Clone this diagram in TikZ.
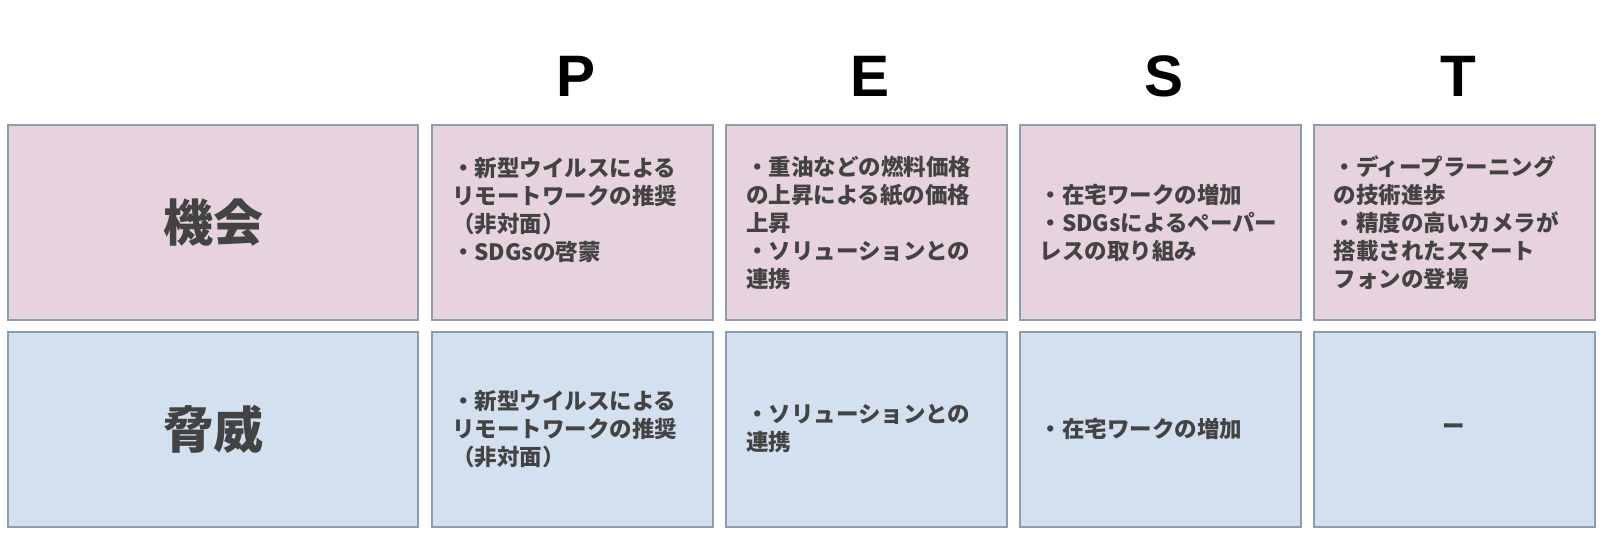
\documentclass[tikz,border=0pt]{standalone}
\usepackage{fontspec}
\setmainfont{Liberation Sans}
\newfontfamily\jp{Noto Sans CJK JP}
\definecolor{pinkfill}{HTML}{E6D3DD}
\definecolor{bluefill}{HTML}{D3E0EF}
\definecolor{edgegray}{HTML}{8E9DAA}
\definecolor{ink}{HTML}{434343}
\begin{document}
\begin{tikzpicture}[x=1pt,y=-1pt,
  cellbox/.style={draw=edgegray, line width=2pt, minimum height=195pt, anchor=north west, text=ink, inner sep=0pt},
  textcell/.style={cellbox, minimum width=281pt, text width=241pt, align=left,
     font=\jp\bfseries\fontsize{22.5}{28}\selectfont},
  labelcell/.style={cellbox, minimum width=410pt, align=center,
     font=\jp\bfseries\fontsize{50}{56}\selectfont},
  opp/.style={fill=pinkfill},
  thr/.style={fill=bluefill},
  header/.style={anchor=base, font=\bfseries\fontsize{58.5}{60}\selectfont, text=black}
]
\useasboundingbox (0,0) rectangle (1604,538);

% headers
\node[header] (hP) at (576.5,96) {P};
\node[header] (hE) at (870.5,96) {E};
\node[header] (hS) at (1164,96) {S};
\node[header] (hT) at (1458,96) {T};

% row 1: opportunities
\node[labelcell,opp] (lab1) at (7,124) {機会};
\node[textcell,opp] (o1) at (431,124) {・新型ウイルスによる\\リモートワークの推奨\\（非対面）\\・SDGsの啓蒙\\\mbox{}};
\node[textcell,opp] (o2) at (725,124) {・重油などの燃料価格\\の上昇による紙の価格\\上昇\\・ソリューションとの\\連携};
\node[textcell,opp] (o3) at (1018.5,124) {・在宅ワークの増加\\・SDGsによるペーパー\\レスの取り組み};
\node[textcell,opp] (o4) at (1312.5,124) {・ディープラーニング\\の技術進歩\\・精度の高いカメラが\\搭載されたスマート\\フォンの登場};

% row 2: threats
\node[labelcell,thr] (lab2) at (7,330.5) {脅威};
\node[textcell,thr] (t1) at (431,330.5) {・新型ウイルスによる\\リモートワークの推奨\\（非対面）};
\node[textcell,thr] (t2) at (725,330.5) {・ソリューションとの\\連携};
\node[textcell,thr] (t3) at (1018.5,330.5) {・在宅ワークの増加};
\node[textcell,thr,align=center] (t4) at (1312.5,330.5) {ー};
\end{tikzpicture}
\end{document}
